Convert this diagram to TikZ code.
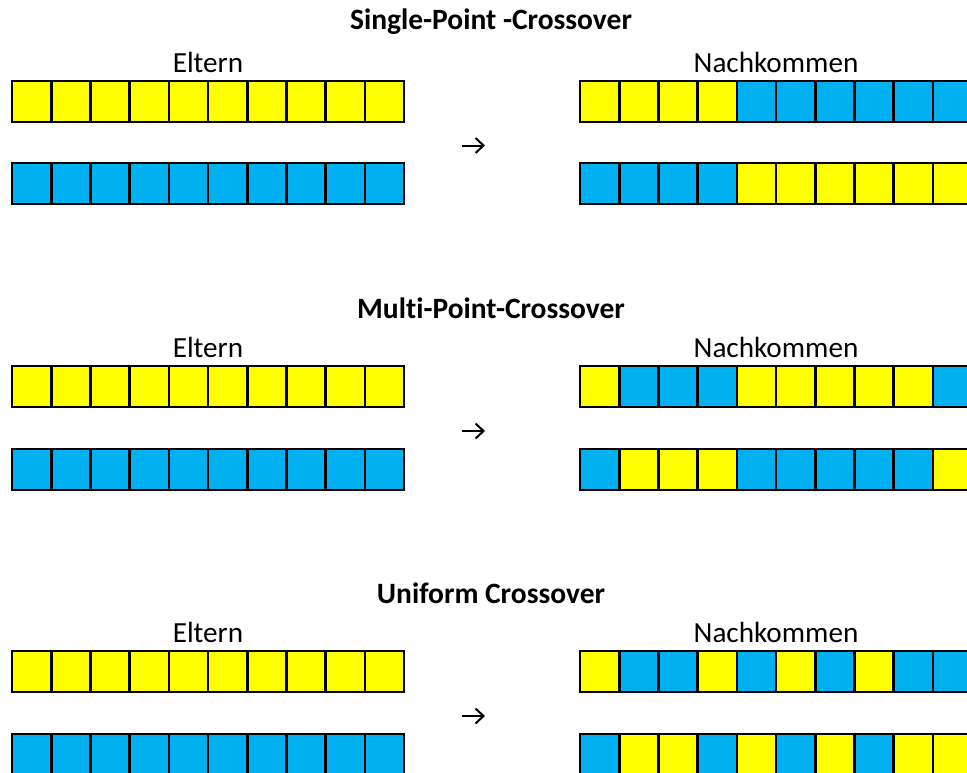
\documentclass[tikz,border=0pt]{standalone}
\usepackage{fontspec}
\setmainfont[Ligatures=NoCommon]{Carlito}
\usetikzlibrary{arrows.meta}
\definecolor{ge}{HTML}{FFFF00}
\definecolor{bl}{HTML}{00B0F0}
\tikzset{
	gen/.style = {draw=black, line width=2.6pt},
	titel/.style = {font=\fontsize{29.5}{34}\selectfont\bfseries},
	lbl/.style = {font=\fontsize{29.2}{34}\selectfont},
	pfeil/.style = {line width=2pt, -{Straight Barb[length=8pt,width=15pt,line width=2pt]}}
}
% one chromosome: left x, top y, list of gene colours
\newcommand{\chrom}[3]{%
	\foreach \c [count=\i from 0] in {#3}
		\draw[gen, fill=\c] ({#1+\i*39.2},{#2}) rectangle ++(39.2,-41);
}

\begin{document}
\begin{tikzpicture}[x=1pt,y=1pt]
	\clip (0,0) rectangle (967,-772);
	\useasboundingbox (0,0) rectangle (967,-772);
	
	% Single-Point
	\node[titel] (t1) at (491,-22) {Single-Point -Crossover};
	\node[lbl] (e1) at (208,-62) {Eltern};
	\node[lbl] (n1) at (776,-62) {Nachkommen};
	\chrom{12}{-81}{ge,ge,ge,ge,ge,ge,ge,ge,ge,ge}
	\chrom{12}{-163}{bl,bl,bl,bl,bl,bl,bl,bl,bl,bl}
	\chrom{580}{-81}{ge,ge,ge,ge,bl,bl,bl,bl,bl,bl}
	\chrom{580}{-163}{bl,bl,bl,bl,ge,ge,ge,ge,ge,ge}
	\coordinate (a1) at (462,-145.5);
	\coordinate (b1) at (485,-145.5);
	\draw[pfeil] (a1) -- (b1);
	
	% Multi-Point
	\node[titel] (t2) at (491,-308) {Multi-Point-Crossover};
	\node[lbl] (e2) at (208,-347) {Eltern};
	\node[lbl] (n2) at (776,-347) {Nachkommen};
	\chrom{12}{-366}{ge,ge,ge,ge,ge,ge,ge,ge,ge,ge}
	\chrom{12}{-449}{bl,bl,bl,bl,bl,bl,bl,bl,bl,bl}
	\chrom{580}{-366}{ge,bl,bl,bl,ge,ge,ge,ge,ge,bl}
	\chrom{580}{-449}{bl,ge,ge,ge,bl,bl,bl,bl,bl,ge}
	\coordinate (a2) at (462,-431);
	\coordinate (b2) at (485,-431);
	\draw[pfeil] (a2) -- (b2);
	
	% Uniform
	\node[titel] (t3) at (491,-593) {Uniform Crossover};
	\node[lbl] (e3) at (208,-632) {Eltern};
	\node[lbl] (n3) at (776,-632) {Nachkommen};
	\chrom{12}{-651}{ge,ge,ge,ge,ge,ge,ge,ge,ge,ge}
	\chrom{12}{-734}{bl,bl,bl,bl,bl,bl,bl,bl,bl,bl}
	\chrom{580}{-651}{ge,bl,bl,ge,bl,ge,bl,ge,bl,bl}
	\chrom{580}{-734}{bl,ge,ge,bl,ge,bl,ge,bl,ge,ge}
	\coordinate (a3) at (462,-716);
	\coordinate (b3) at (485,-716);
	\draw[pfeil] (a3) -- (b3);
\end{tikzpicture}
\end{document}
